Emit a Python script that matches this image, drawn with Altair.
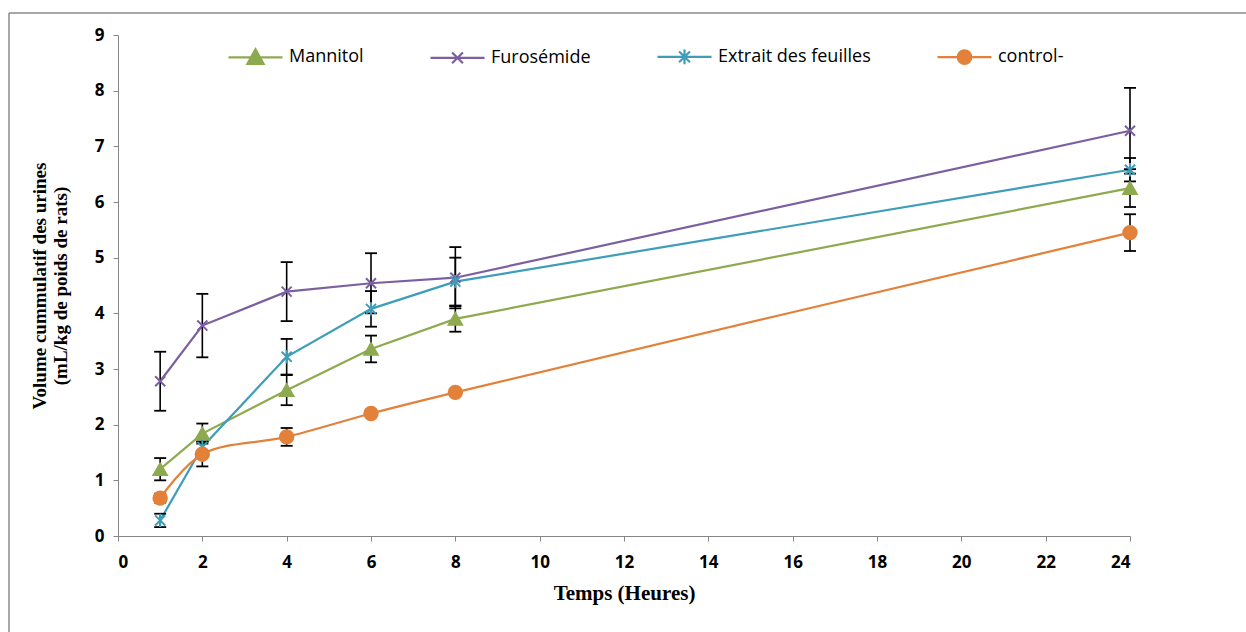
import altair as alt
import pandas as pd

hours = [1, 2, 4, 6, 8, 24]
series_names = ["Mannitol", "Furosémide", "Extrait des feuilles", "control-"]
colors = ["#8DAA4F", "#7B5FA0", "#3E9DB8", "#E3813A"]

mannitol = [1.20, 1.84, 2.62, 3.36, 3.90, 6.25]
mannitol_err = [0.20, 0.18, 0.27, 0.24, 0.23, 0.34]
furosemide = [2.78, 3.78, 4.39, 4.54, 4.64, 7.28]
furosemide_err = [0.53, 0.57, 0.53, 0.54, 0.55, 0.77]
extrait = [0.28, 1.60, 3.22, 4.08, 4.57, 6.58]
extrait_err = [0.12, 0.10, 0.32, 0.32, 0.43, 0.21]
control = [0.68, 1.47, 1.78, 2.20, 2.58, 5.45]
control_err = [0.08, 0.22, 0.16, 0.05, 0.05, 0.33]

values = [mannitol, furosemide, extrait, control]
errors = [mannitol_err, furosemide_err, extrait_err, control_err]

rows = []
for name, vals, errs in zip(series_names, values, errors):
    for h, v, e in zip(hours, vals, errs):
        rows.append({"series": name, "lg": name, "h": h, "v": v,
                     "lo": v - e, "hi": v + e})
df = pd.DataFrame(rows)

# plot marker shapes
plot_shapes = [
    "triangle-up",
    "M-0.75,-0.75L0.75,0.75M-0.75,0.75L0.75,-0.75",
    "M-0.75,-0.75L0.75,0.75M-0.75,0.75L0.75,-0.75M0,-1V1",
    "circle",
]
# legend symbols: line segment + marker
legend_shapes = [
    "M-1,0H1M0,-0.3L0.3,0.24H-0.3Z",
    "M-1,0H1M-0.2,-0.2L0.2,0.2M-0.2,0.2L0.2,-0.2",
    "M-1,0H1M-0.2,-0.2L0.2,0.2M-0.2,0.2L0.2,-0.2M0,-0.27V0.27",
    "M-1,0H1M0.25,0A0.25,0.25 0 1,1 -0.25,0A0.25,0.25 0 1,1 0.25,0Z",
]

xscale = alt.Scale(domain=[0, 24], nice=False)
yscale = alt.Scale(domain=[0, 9], nice=False)
col_scale = alt.Scale(domain=series_names, range=colors)

X = alt.X("h:Q", scale=xscale,
          axis=alt.Axis(values=list(range(0, 25, 2)), format="d",
                        title="Temps (Heures)", titlePadding=12,
                        titleFontSize=21))
Y = alt.Y("v:Q", scale=yscale,
          axis=alt.Axis(values=list(range(0, 10)), format="d",
                        title=["Volume cummulatif des urines",
                               "(mL/kg de poids de rats)"],
                        titlePadding=24, titleFontSize=19))

base = alt.Chart(df)

lines = base.transform_filter(alt.datum.series != "control-").mark_line(
    strokeWidth=2.2).encode(
    x=X, y=Y,
    color=alt.Color("series:N", scale=col_scale, legend=None),
    detail="series:N")

ctrl_line = base.transform_filter(alt.datum.series == "control-").mark_line(
    strokeWidth=2.2, interpolate="catmull-rom").encode(
    x=X, y=Y,
    color=alt.Color("series:N", scale=col_scale, legend=None))

err_rule = base.mark_rule(color="black", strokeWidth=1.6).encode(
    x="h:Q", y="lo:Q", y2="hi:Q")
cap_hi = base.mark_tick(orient="horizontal", color="black", size=12,
                        thickness=1.8, opacity=1).encode(x="h:Q", y="hi:Q")
cap_lo = base.mark_tick(orient="horizontal", color="black", size=12,
                        thickness=1.8, opacity=1).encode(x="h:Q", y="lo:Q")

pts = base.mark_point(opacity=1, size=180, strokeWidth=2).encode(
    x=X, y=Y,
    shape=alt.Shape("series:N", scale=alt.Scale(domain=series_names,
                                                range=plot_shapes), legend=None),
    fill=alt.Fill("series:N", scale=col_scale, legend=None),
    stroke=alt.Stroke("series:N", scale=col_scale, legend=None))

leg = alt.Legend(title=None, orient="none", direction="horizontal",
                 legendX=109, legendY=-7, symbolSize=2916,
                 symbolStrokeWidth=2.2, labelFont="Open Sans",
                 labelFontSize=18, labelColor="#000000", labelOffset=5,
                 columnPadding=62, padding=0, labelLimit=300)
lg_scale = alt.Scale(domain=series_names, range=colors)
legend_layer = base.mark_point(opacity=1, clip=True, strokeWidth=2.2).encode(
    x="h:Q", y=alt.value(-400),
    shape=alt.Shape("lg:N", scale=alt.Scale(domain=series_names,
                                            range=legend_shapes), legend=leg),
    fill=alt.Fill("lg:N", scale=lg_scale, legend=leg),
    stroke=alt.Stroke("lg:N", scale=lg_scale, legend=leg))

frame_df = pd.DataFrame({"k": [0]})
frame_top = alt.Chart(frame_df).mark_rule(color="#8a8a8a", strokeWidth=1.5).encode(
    x=alt.value(-109), x2=alt.value(1130), y=alt.value(-22))
frame_left = alt.Chart(frame_df).mark_rule(color="#8a8a8a", strokeWidth=1.5).encode(
    x=alt.value(-109), y=alt.value(-22), y2=alt.value(600))

chart = alt.layer(
    frame_top, frame_left, lines, ctrl_line, err_rule, cap_hi, cap_lo, pts,
    legend_layer
).resolve_scale(
    shape="independent", fill="independent", stroke="independent"
).properties(
    width=1012, height=501,
    autosize=alt.AutoSizeParams(type="none"),
    padding={"left": 118, "top": 35, "right": 116, "bottom": 96},
).configure_view(stroke=None).configure_axis(
    grid=False, domainColor="#868686", tickColor="#868686", tickSize=5,
    labelFont="Open Sans", labelFontWeight="bold", labelFontSize=17,
    labelColor="#000000", titleFont="Liberation Serif", titleFontWeight="bold",
    titleColor="#000000",
).configure_axisX(labelPadding=13).configure_axisY(labelPadding=9)

chart.save("out.html", embed_options={"renderer": "svg", "actions": False})
